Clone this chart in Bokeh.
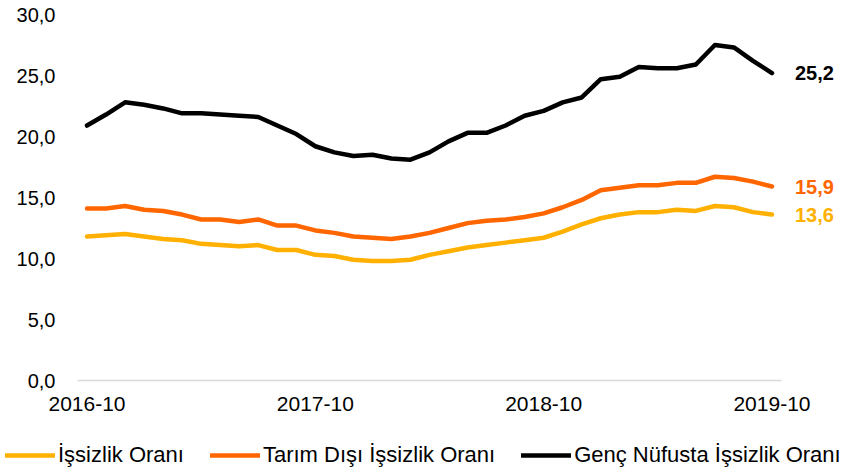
import pandas as pd
from bokeh.plotting import figure
from bokeh.layouts import column
from bokeh.models import Range1d, FixedTicker, Legend, LegendItem, ColumnDataSource
from bokeh.core.properties import value
from bokeh.embed import file_html
from bokeh.resources import INLINE

# ---- data ----
months = list(pd.period_range("2016-10", "2019-10", freq="M").strftime("%Y-%m"))

issizlik = [11.8, 11.9, 12.0, 11.8, 11.6, 11.5, 11.2, 11.1, 11.0, 11.1, 10.7, 10.7,
            10.3, 10.2, 9.9, 9.8, 9.8, 9.9, 10.3, 10.6, 10.9, 11.1, 11.3, 11.5,
            11.7, 12.2, 12.8, 13.3, 13.6, 13.8, 13.8, 14.0, 13.9, 14.3, 14.2, 13.8,
            13.6]
tarim_disi = [14.1, 14.1, 14.3, 14.0, 13.9, 13.6, 13.2, 13.2, 13.0, 13.2, 12.7, 12.7,
              12.3, 12.1, 11.8, 11.7, 11.6, 11.8, 12.1, 12.5, 12.9, 13.1, 13.2, 13.4,
              13.7, 14.2, 14.8, 15.6, 15.8, 16.0, 16.0, 16.2, 16.2, 16.7, 16.6, 16.3,
              15.9]
genc = [20.9, 21.8, 22.8, 22.6, 22.3, 21.9, 21.9, 21.8, 21.7, 21.6, 20.9, 20.2,
        19.2, 18.7, 18.4, 18.5, 18.2, 18.1, 18.7, 19.6, 20.3, 20.3, 20.9, 21.7,
        22.1, 22.8, 23.2, 24.7, 24.9, 25.7, 25.6, 25.6, 25.9, 27.5, 27.3, 26.2,
        25.2]

series_names = ["İşsizlik Oranı", "Tarım Dışı İşsizlik Oranı", "Genç Nüfusta İşsizlik Oranı"]
series_values = [issizlik, tarim_disi, genc]
colors = ["#FFB000", "#FF6600", "#000000"]
y_ticks = [0, 5, 10, 15, 20, 25, 30]
x_tick_month = "-10"

FONT = "Liberation Sans"
LINE_W = 4.5


def fmt(v):
    return f"{v:.1f}".replace(".", ",")


x = list(range(len(months)))

# layout (pixels)
W = 844
H_MAIN, H_LEG = 438, 36
LEFT, RIGHT, TOP, BOTTOM = 77, 2, 14, 58
AXIS_W = 704  # pixel width of the data part of the x axis
frame_w = W - LEFT - RIGHT
n = len(months)
x_start = -0.5
x_end = x_start + n * frame_w / AXIS_W   # extra room on the right for end labels

p = figure(width=W, height=H_MAIN, output_backend="svg", toolbar_location=None,
           x_range=Range1d(x_start, x_end), y_range=Range1d(y_ticks[0], y_ticks[-1]),
           min_border_left=LEFT, min_border_right=RIGHT, min_border_top=TOP,
           min_border_bottom=BOTTOM)
p.frame_align = False
p.outline_line_color = None
p.xgrid.visible = False
p.ygrid.visible = False
p.background_fill_color = "white"
p.border_fill_color = "white"

for vals, col in zip(series_values, colors):
    src = ColumnDataSource(dict(x=x, y=vals))
    p.line("x", "y", source=src, line_color=col, line_width=LINE_W,
           line_cap="round", line_join="round")

# end-value labels
lab_src = ColumnDataSource(dict(
    x=[x[-1]] * len(series_values),
    y=[v[-1] for v in series_values],
    text=[fmt(v[-1]) for v in series_values],
    color=colors,
))
p.text("x", "y", text="text", source=lab_src, text_color="color", x_offset=23,
       text_baseline="middle", text_align="left", text_font=value(FONT),
       text_font_size="20px", text_font_style="bold")

# x axis
xt = [i for i, m in enumerate(months) if m.endswith(x_tick_month)]
p.xaxis.ticker = FixedTicker(ticks=xt)
p.xaxis.major_label_overrides = {i: months[i] for i in xt}
p.xaxis.bounds = (x_start, n - 0.5)
p.xaxis.axis_line_color = "#D9D9D9"
p.xaxis.axis_line_width = 1.5
p.xaxis.major_tick_line_color = None
p.xaxis.minor_tick_line_color = None
p.xaxis.major_tick_out = 0
p.xaxis.minor_tick_out = 0
p.xaxis.major_label_standoff = 16
p.xaxis.major_label_text_font = FONT
p.xaxis.major_label_text_font_size = "21px"
p.xaxis.major_label_text_color = "#000000"

# y axis
p.yaxis.ticker = FixedTicker(ticks=y_ticks)
p.yaxis.major_label_overrides = {t: fmt(t) for t in y_ticks}
p.yaxis.axis_line_color = None
p.yaxis.major_tick_line_color = None
p.yaxis.minor_tick_line_color = None
p.yaxis.major_tick_out = 0
p.yaxis.minor_tick_out = 0
p.yaxis.major_label_standoff = 22
p.yaxis.major_label_text_font = FONT
p.yaxis.major_label_text_font_size = "20px"
p.yaxis.major_label_text_color = "#000000"

# legend strip below the chart
pl = figure(width=W, height=H_LEG, output_backend="svg", toolbar_location=None,
            x_range=Range1d(0, 1), y_range=Range1d(0, 1),
            x_axis_type=None, y_axis_type=None,
            min_border_left=0, min_border_right=0, min_border_top=0, min_border_bottom=0)
pl.frame_align = False
pl.outline_line_color = None
pl.xgrid.visible = False
pl.ygrid.visible = False
pl.border_fill_color = "white"
leg_renderers = []
for col in colors:
    src = ColumnDataSource(dict(x=[0.0], y=[float("nan")]))
    leg_renderers.append(pl.line("x", "y", source=src, line_color=col, line_width=LINE_W,
                                 line_cap="round", line_join="round"))
legend = Legend(items=[LegendItem(label=nm, renderers=[r]) for nm, r in zip(series_names, leg_renderers)],
                location=(5, 6), orientation="horizontal", padding=0, margin=0,
                spacing=26, glyph_width=50, glyph_height=22, label_standoff=3,
                label_text_font=FONT, label_text_font_size="22px",
                label_text_color="#000000", border_line_color=None,
                background_fill_alpha=0)
pl.add_layout(legend, "center")

layout = column(p, pl, spacing=0)
open("out.html", "w").write(file_html(layout, INLINE))
